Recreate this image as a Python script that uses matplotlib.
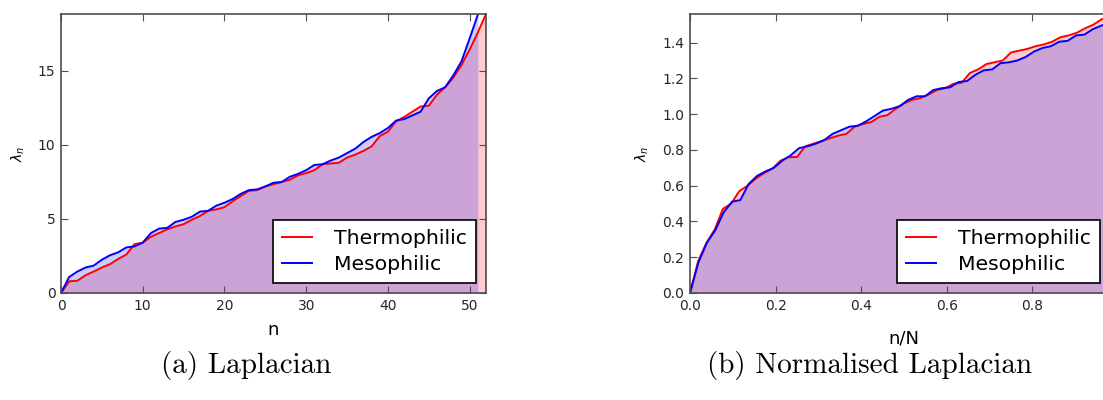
import numpy as np
import matplotlib
matplotlib.use("Agg")
import matplotlib.pyplot as plt

# eigenvalue spectra
lap_thermo = [0, 0.79, 0.83, 1.2, 1.45, 1.72, 1.95, 2.3, 2.6, 3.3, 3.4, 3.8, 4.05,
              4.3, 4.5, 4.65, 4.95, 5.2, 5.55, 5.65, 5.8, 6.2, 6.55, 6.9, 6.95, 7.2,
              7.35, 7.5, 7.65, 7.95, 8.1, 8.3, 8.7, 8.75, 8.8, 9.15, 9.35, 9.6, 9.9,
              10.6, 10.9, 11.6, 11.9, 12.25, 12.6, 12.65, 13.4, 13.9, 14.55, 15.4,
              16.45, 17.6, 18.85]
lap_meso = [0, 1.08, 1.45, 1.72, 1.85, 2.25, 2.55, 2.75, 3.08, 3.15, 3.4, 4.05, 4.35,
            4.4, 4.8, 4.95, 5.15, 5.5, 5.55, 5.9, 6.1, 6.35, 6.7, 6.95, 7.0, 7.2,
            7.45, 7.5, 7.85, 8.05, 8.3, 8.65, 8.7, 8.95, 9.15, 9.45, 9.75, 10.2,
            10.55, 10.8, 11.15, 11.65, 11.75, 12.0, 12.25, 13.15, 13.65, 13.9, 14.7,
            15.65, 17.2, 18.8]

norm_thermo = [0, 0.18, 0.28, 0.355, 0.47, 0.5, 0.57, 0.6, 0.64, 0.67, 0.695, 0.74,
               0.76, 0.76, 0.82, 0.835, 0.85, 0.865, 0.88, 0.89, 0.93, 0.945, 0.955,
               0.985, 0.995, 1.03, 1.06, 1.08, 1.09, 1.11, 1.135, 1.145, 1.17, 1.175,
               1.23, 1.25, 1.28, 1.29, 1.30, 1.345, 1.355, 1.365, 1.38, 1.39, 1.405,
               1.43, 1.44, 1.455, 1.48, 1.5, 1.53, 1.545, 1.56]
norm_meso = [0, 0.17, 0.28, 0.35, 0.45, 0.51, 0.52, 0.61, 0.655, 0.68, 0.7, 0.74,
             0.77, 0.81, 0.82, 0.835, 0.855, 0.89, 0.91, 0.93, 0.935, 0.96, 0.99,
             1.02, 1.03, 1.045, 1.08, 1.1, 1.1, 1.135, 1.145, 1.15, 1.18, 1.185, 1.22,
             1.245, 1.25, 1.285, 1.29, 1.3, 1.32, 1.35, 1.37, 1.38, 1.405, 1.41, 1.44,
             1.445, 1.475, 1.495, 1.51, 1.525]

labels = ['Thermophilic', 'Mesophilic']
captions = ['(a) Laplacian', '(b) Normalised Laplacian']

fig = plt.figure(figsize=(11.03, 4.0), dpi=100, facecolor='w')
W, H = 1103.0, 400.0
ax1 = fig.add_axes([61 / W, 1 - 293 / H, 425 / W, 279 / H])
ax2 = fig.add_axes([690 / W, 1 - 293 / H, 428 / W, 279 / H])


def panel(ax, xt, yt, xm, ym, xlabel, xpad, legx):
    ax.fill_between(xt, yt, color='r', alpha=0.2, lw=0)
    ax.fill_between(xm, ym, color='b', alpha=0.2, lw=0)
    ax.plot(xt, yt, color='r', lw=1.4, label=labels[0])
    ax.plot(xm, ym, color='b', lw=1.4, label=labels[1])
    ax.set_xlim(0, max(xt[-1], xm[-1]))
    ax.set_ylim(0, max(max(yt), max(ym)))
    ax.set_xlabel(xlabel, fontsize=13, labelpad=xpad)
    ax.set_ylabel(r'$\lambda_n$', fontsize=10, labelpad=8)
    ax.tick_params(direction='in', top=True, right=True, labelsize=10,
                   length=5, color='0.3', labelcolor='0.15', pad=4)
    for s in ax.spines.values():
        s.set_color('0.3')
        s.set_linewidth(1.2)
    leg = ax.legend(loc='lower right', bbox_to_anchor=(legx, 0.035),
                    fontsize=14.7, fancybox=False, handlelength=1.5,
                    borderpad=0.45, labelspacing=0.35, handletextpad=1.05,
                    borderaxespad=0, framealpha=1)
    leg.get_frame().set_edgecolor('k')
    leg.get_frame().set_linewidth(1.2)


n_t = np.arange(len(lap_thermo))
n_m = np.arange(len(lap_meso))
panel(ax1, n_t, lap_thermo, n_m, lap_meso, 'n', 6, 1 - 10 / 425)
ax1.set_xticks([0, 10, 20, 30, 40, 50])
ax1.set_yticks([0, 5, 10, 15])

x_t = np.arange(len(norm_thermo)) / (len(norm_thermo) - 1)
x_m = np.arange(len(norm_meso)) / (len(norm_meso) - 1)
panel(ax2, x_t, norm_thermo, x_m, norm_meso, 'n/N', 12, 1 - 18 / 428)
ax2.set_xticks([0.0, 0.2, 0.4, 0.6, 0.8])
ax2.set_yticks(np.arange(0, 1.5, 0.2))
ax2.xaxis.set_major_formatter(matplotlib.ticker.FormatStrFormatter('%.1f'))
ax2.yaxis.set_major_formatter(matplotlib.ticker.FormatStrFormatter('%.1f'))

fig.text(246 / W, 1 - 366 / H, captions[0], family='cmr10', fontsize=21,
         ha='center', va='center')
fig.text(870 / W, 1 - 366 / H, captions[1], family='cmr10', fontsize=21,
         ha='center', va='center')

fig.savefig('out.png', dpi=100, facecolor='w')
